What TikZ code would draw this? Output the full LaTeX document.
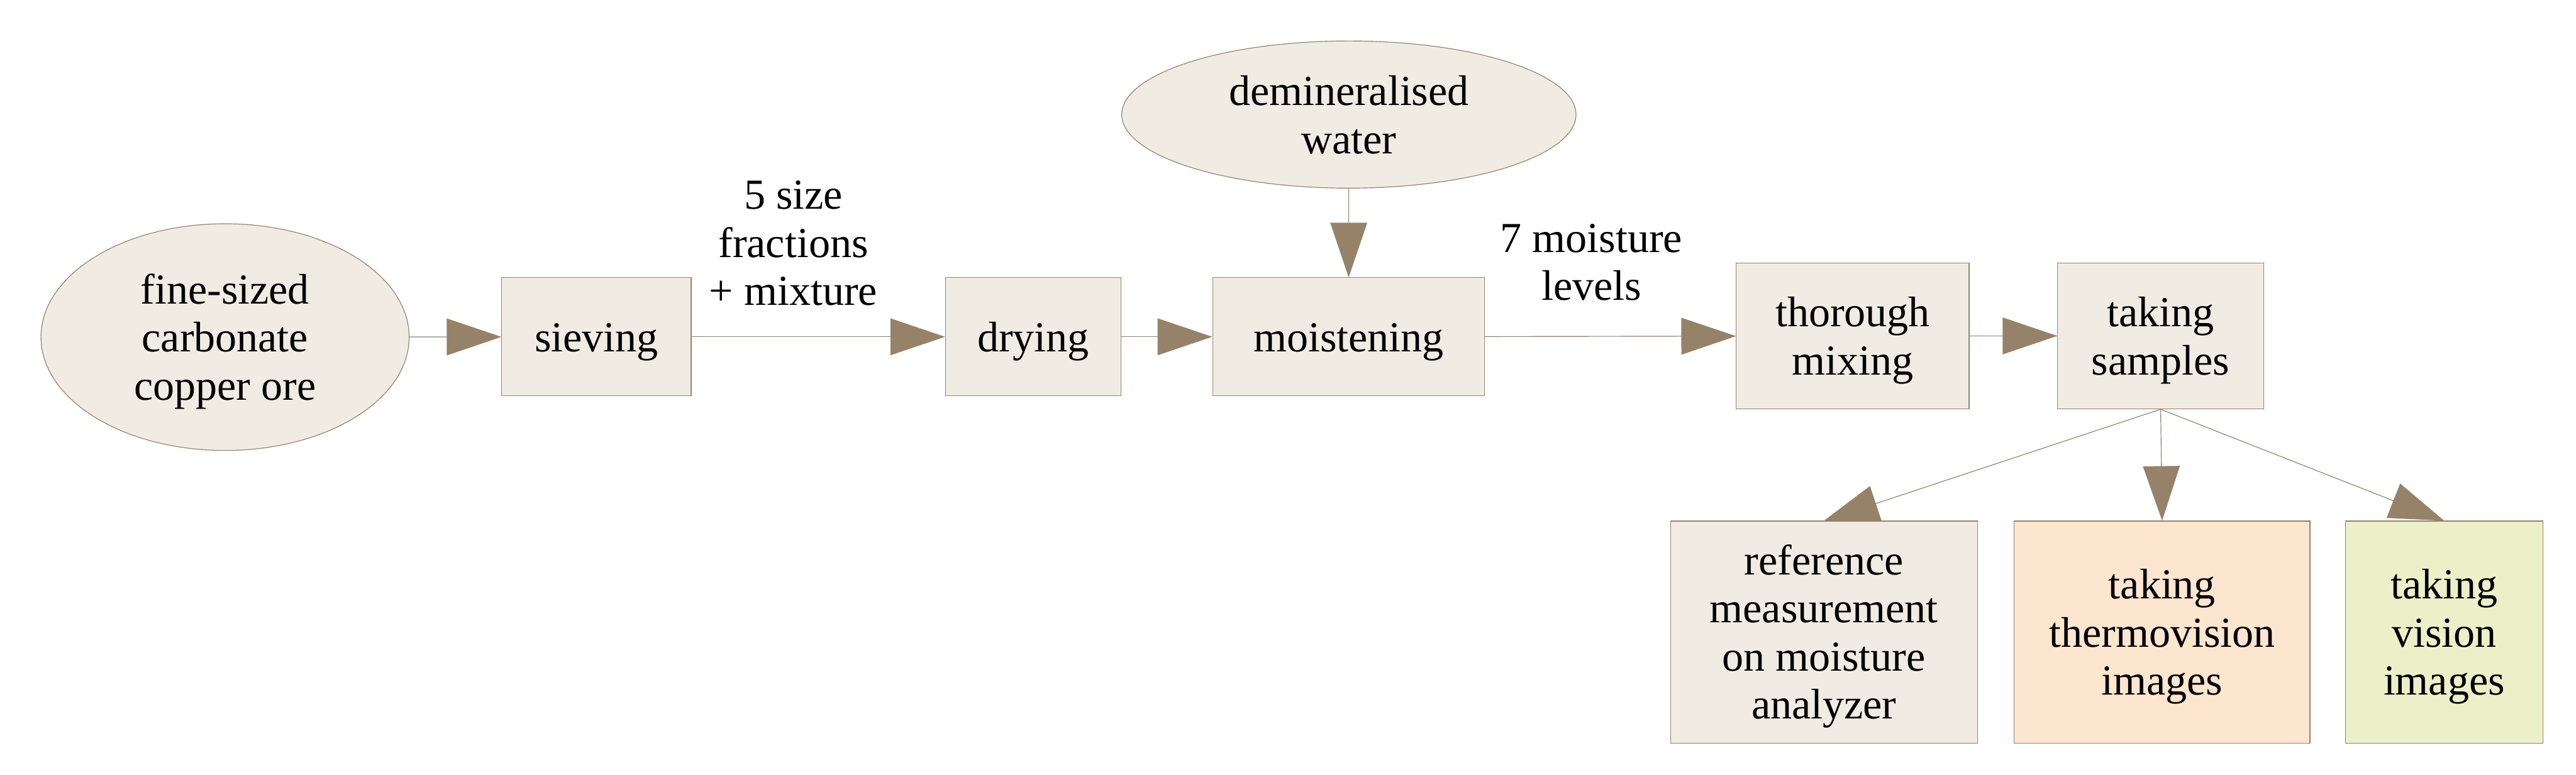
\documentclass[tikz,border=0pt]{standalone}
\usepackage{fontspec}
\setmainfont{Liberation Serif}
\usetikzlibrary{arrows.meta,shapes.geometric}
\definecolor{boxfill}{HTML}{F0ECE4}
\definecolor{edgecol}{HTML}{958269}
\definecolor{thermofill}{HTML}{FDE6D0}
\definecolor{visionfill}{HTML}{ECF0C8}
\newcommand{\mytopstrut}{\rule{0pt}{0.66cm}}
\newcommand{\mybotstrut}{\rule[-0.16cm]{0pt}{0.16cm}}
\begin{document}
\begin{tikzpicture}[
  txt/.style={font=\fontsize{20.5pt}{23.05pt}\selectfont, align=center, inner sep=0pt, text=black},
  procbox/.style={txt, rectangle, draw=edgecol, fill=boxfill, line width=0.35pt},
  srcell/.style={txt, ellipse, draw=edgecol, fill=boxfill, line width=0.35pt},
  flow/.style={draw=edgecol, line width=0.35pt, -{Triangle[length=0.92cm,width=0.62cm]}}
]
\path[fill=white] (0,0) rectangle (43.38,-13.05);
\useasboundingbox (0,0) rectangle (43.38,-13.05);

\node[srcell, minimum width=6.20cm, minimum height=3.82cm] (ore) at (3.79,-5.68)
  {\mytopstrut fine-sized\\carbonate\\copper ore\mybotstrut};
\node[procbox, minimum width=3.19cm, minimum height=1.99cm] (sieve) at (10.045,-5.675)
  {\mytopstrut sieving\mybotstrut};
\node[procbox, minimum width=2.96cm, minimum height=1.99cm] (dry) at (17.40,-5.675)
  {\mytopstrut drying\mybotstrut};
\node[procbox, minimum width=4.58cm, minimum height=1.99cm] (moist) at (22.71,-5.675)
  {\mytopstrut moistening\mybotstrut};
\node[srcell, minimum width=7.65cm, minimum height=2.48cm] (water) at (22.715,-1.93)
  {\mytopstrut demineralised\\water\mybotstrut};
\node[procbox, minimum width=3.92cm, minimum height=2.46cm] (mix) at (31.20,-5.66)
  {\mytopstrut thorough\\mixing\mybotstrut};
\node[procbox, minimum width=3.47cm, minimum height=2.46cm] (samples) at (36.385,-5.66)
  {\mytopstrut taking\\samples\mybotstrut};
\node[procbox, minimum width=5.17cm, minimum height=3.74cm] (ref) at (30.715,-10.65)
  {\mytopstrut reference\\measurement\\on moisture\\analyzer\mybotstrut};
\node[procbox, fill=thermofill, minimum width=4.98cm, minimum height=3.74cm] (thermo) at (36.41,-10.65)
  {\mytopstrut taking\\thermovision\\images\mybotstrut};
\node[procbox, fill=visionfill, minimum width=3.32cm, minimum height=3.74cm] (vision) at (41.16,-10.65)
  {\mytopstrut taking\\vision\\images\mybotstrut};

\node[txt] (lblsize) at (13.36,-4.085) {\mytopstrut 5 size\\fractions\\+ mixture\mybotstrut};
\node[txt] (lblmoist) at (26.80,-4.405) {\mytopstrut 7 moisture\\levels\mybotstrut};

\draw[flow] (ore) -- (sieve);
\draw[flow] (sieve) -- (dry);
\draw[flow] (dry) -- (moist);
\draw[flow] (water) -- (moist);
\draw[flow] (moist) -- (mix);
\draw[flow] (mix) -- (samples);
\draw[flow] (samples.south) -- (ref.north);
\draw[flow] (samples.south) -- (thermo.north);
\draw[flow] (samples.south) -- (vision.north);
\end{tikzpicture}
\end{document}
